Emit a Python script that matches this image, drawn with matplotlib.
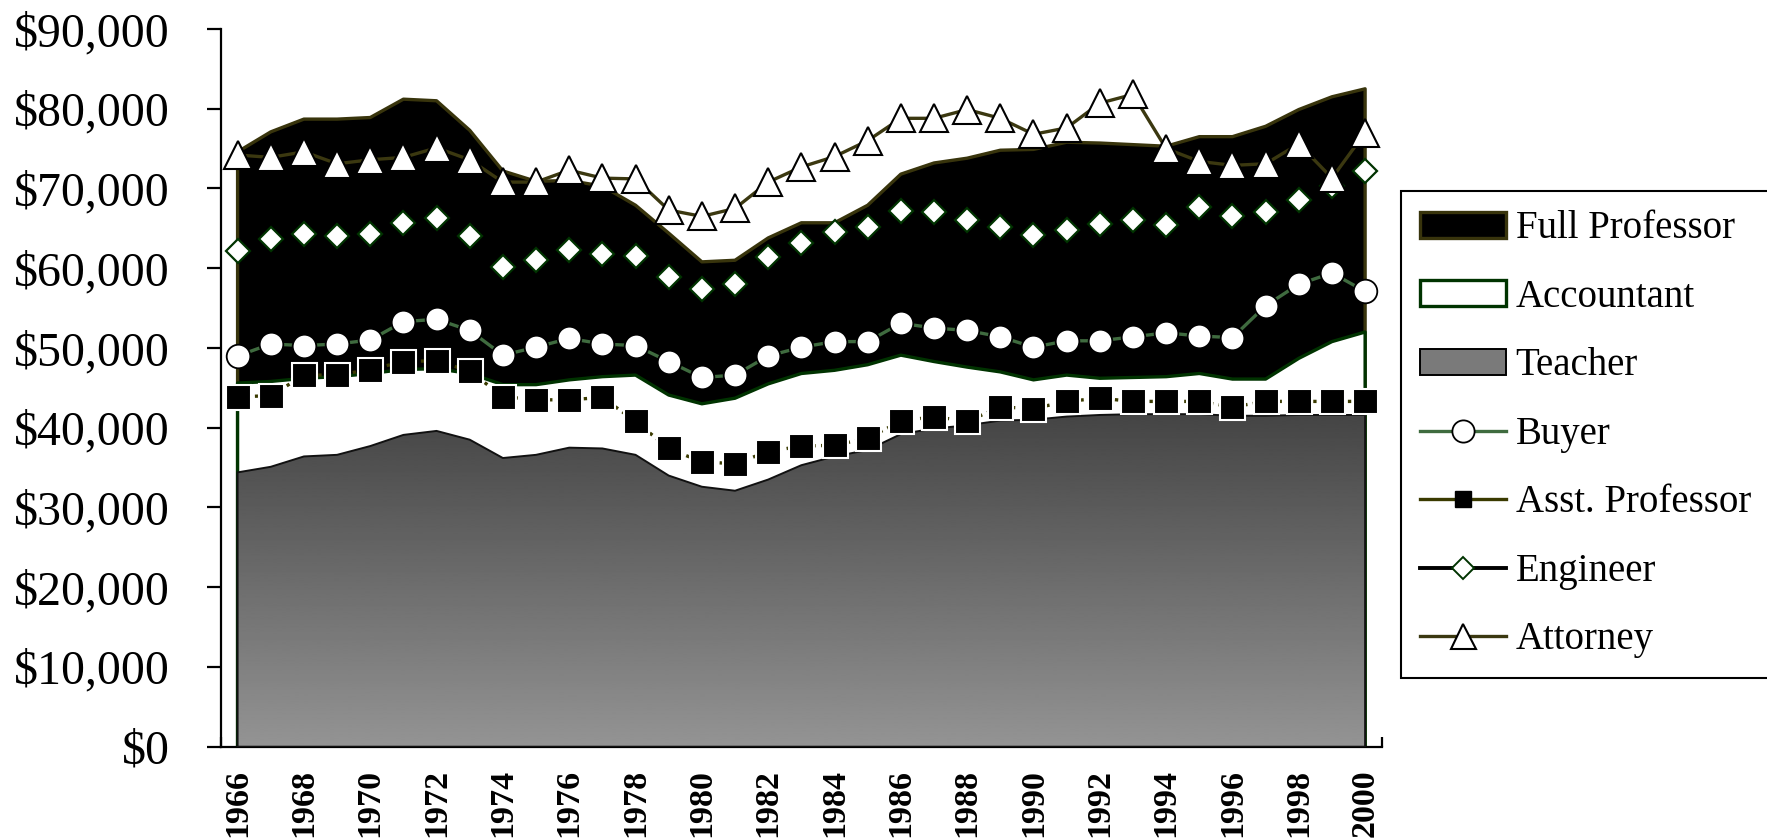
import numpy as np
import matplotlib.pyplot as plt
from matplotlib.patches import Polygon, Patch
from matplotlib.lines import Line2D
from matplotlib.ticker import FuncFormatter

plt.rcParams['font.family'] = ['Liberation Serif', 'DejaVu Serif']

years = list(range(1966, 2001))

full_prof = [74600, 77100, 78700, 78700, 78900, 81200, 81000, 77300, 72200, 70900,
             71000, 70300, 67900, 64400, 60800, 61000, 63800, 65700, 65700, 67900,
             71800, 73200, 73800, 74800, 74900, 75800, 75700, 75500, 75300, 76500,
             76500, 77800, 79900, 81500, 82500]
accountant = [45600, 45800, 46200, 46400, 46800, 47300, 47400, 46800, 45400, 45400,
              46000, 46400, 46600, 44100, 43000, 43700, 45500, 46800, 47200, 47900,
              49100, 48300, 47600, 47000, 46000, 46600, 46200, 46300, 46400, 46800,
              46100, 46100, 48700, 50800, 52000]
teacher = [34400, 35100, 36400, 36600, 37700, 39100, 39600, 38500, 36200, 36600,
           37500, 37400, 36600, 34000, 32600, 32100, 33500, 35300, 36400, 37200,
           39200, 39900, 40300, 40900, 41000, 41400, 41600, 41700, 41700, 41700,
           41500, 41500, 41600, 41600, 41600]
buyer = [49000, 50500, 50300, 50500, 51000, 53300, 53600, 52200, 49100, 50100,
         51200, 50500, 50300, 48300, 46300, 46600, 49000, 50100, 50800, 50800,
         53100, 52500, 52200, 51400, 50100, 50900, 50900, 51400, 51900, 51500,
         51300, 55300, 58000, 59400, 57100]
asst_prof = [43900, 44000, 46600, 46600, 47300, 48300, 48400, 47100, 43900, 43500,
             43500, 43800, 40800, 37400, 35700, 35500, 37000, 37700, 37800, 38700,
             40800, 41400, 40800, 42600, 42400, 43300, 43700, 43300, 43300, 43300,
             42600, 43300, 43300, 43300, 43300]
engineer = [62200, 63700, 64300, 64000, 64300, 65700, 66300, 64000, 60200, 61000,
            62300, 61800, 61500, 58900, 57400, 58000, 61400, 63200, 64500, 65200,
            67200, 67000, 66100, 65200, 64200, 64800, 65600, 66000, 65400, 67700,
            66600, 67000, 68500, 70300, 72200]
attorney = [74200, 73900, 74600, 73100, 73600, 73900, 75100, 73600, 70800, 70800,
            72300, 71300, 71200, 67300, 66500, 67500, 70800, 72700, 74000, 76000,
            78800, 78800, 79900, 78800, 76800, 77600, 80700, 81800, 75000, 73400,
            72900, 73100, 75600, 71300, 77000]

x = np.arange(len(years))

fig = plt.figure(figsize=(17.67, 8.38), dpi=100)
ax = fig.add_axes([221/1767, 1-746.7/838, (1381.7-221)/1767, (746.7-29)/838])

def area(vals, fc, ec, lw, z):
    verts = [(x[0], 0)] + list(zip(x, vals)) + [(x[-1], 0)]
    p = Polygon(verts, closed=True, facecolor=fc, edgecolor=ec, lw=lw, zorder=z, joinstyle='round')
    ax.add_patch(p)
    return p

area(full_prof, 'black', '#38340c', 2.4, 1)
area(accountant, 'white', '#003300', 2.4, 2)
tpoly = area(teacher, 'none', '#111111', 1.4, 4)

# gradient fill for teacher
grad = np.linspace(0.58, 0.27, 256).reshape(-1, 1)
im = ax.imshow(grad, extent=[x[0], x[-1], 0, max(teacher)], origin='lower', aspect='auto',
               cmap='gray', vmin=0, vmax=1, zorder=3, interpolation='bilinear')
im.set_clip_path(tpoly)

ax.plot(x, buyer, color='#3f6b3f', lw=2.4, marker='o', ms=17,
        mfc='white', mec='black', mew=1.3, zorder=5)
ax.plot(x, asst_prof, color='#3a3a00', lw=2.4, ls=(0, (1, 1.6)), marker='s', ms=18,
        mfc='black', mec='white', mew=1.5, zorder=6)
ax.plot(x, engineer, color='black', lw=2.4, marker='D', ms=12.5,
        mfc='white', mec='#003300', mew=1.6, zorder=7)
ax.plot(x, attorney, color='#3b3810', lw=2.4, marker='^', ms=19.5,
        mfc='white', mec='black', mew=1.5, zorder=8)

ax.set_xlim(-0.5, len(years) - 0.5)
ax.set_ylim(0, 90000)

ax.spines['top'].set_visible(False)
ax.spines['right'].set_visible(False)
ax.spines['left'].set_linewidth(1.6)
ax.spines['bottom'].set_linewidth(1.6)

ax.set_yticks(np.arange(0, 90001, 10000))
ax.yaxis.set_major_formatter(FuncFormatter(lambda v, p: '${:,.0f}'.format(v)))
ax.tick_params(axis='y', direction='out', length=10, width=1.6, labelsize=34.5, pad=27)

ax.set_xticks(x[::2])
ax.set_xticklabels([str(y) for y in years[::2]], rotation=90, fontweight='bold', fontsize=24.5)
ax.set_xticks(np.arange(-0.5, len(years), 1), minor=True)
ax.tick_params(axis='x', which='major', length=0, pad=16)
ax.tick_params(axis='x', which='minor', direction='in', length=7, width=1.6)

handles = [Patch(facecolor='black', edgecolor='#38340c', lw=2.4),
           Patch(facecolor='white', edgecolor='#003300', lw=2.4),
           Patch(facecolor='#7a7a7a', edgecolor='black', lw=1.4),
           Line2D([], [], color='#3f6b3f', lw=2.4, marker='o', ms=16, mfc='white', mec='black', mew=1.3),
           Line2D([], [], color='#3a3a00', lw=2.4, marker='s', ms=12, mfc='black', mec='black'),
           Line2D([], [], color='black', lw=2.8, marker='D', ms=11, mfc='white', mec='#003300', mew=1.4),
           Line2D([], [], color='#3b3810', lw=2.4, marker='^', ms=18, mfc='white', mec='black', mew=1.5)]
labels = ['Full Professor', 'Accountant', 'Teacher', 'Buyer', 'Asst. Professor', 'Engineer', 'Attorney']
leg = fig.legend(handles, labels, loc='upper left', bbox_to_anchor=(1401/1767, 1-191/838),
                 bbox_transform=fig.transFigure, fontsize=28, handlelength=2.2,
                 handleheight=0.65, handletextpad=0.25, labelspacing=0.81, borderpad=0.5,
                 borderaxespad=0, fancybox=False, framealpha=1, edgecolor='black')
leg.get_frame().set_linewidth(1.5)

fig.savefig('out.png', dpi=100)
